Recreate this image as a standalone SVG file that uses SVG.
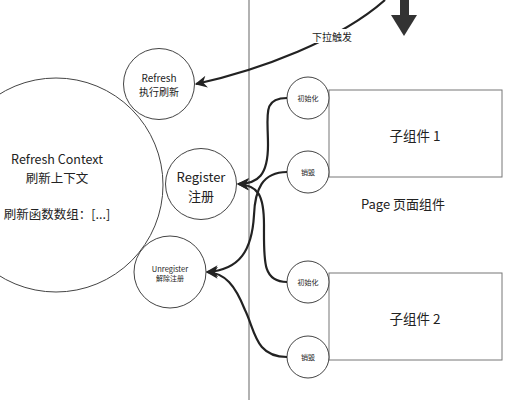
<svg xmlns="http://www.w3.org/2000/svg" width="508" height="400" viewBox="0 0 508 400">
<style>
text{font-family:"Noto Sans CJK SC","Noto Sans",sans-serif;fill:#222;text-anchor:middle;dominant-baseline:central}
.node{fill:#fff;stroke:#444;stroke-width:1}
.box{fill:#fff;stroke:#777;stroke-width:1}
.conn{fill:none;stroke:#222;stroke-width:2.2}
</style>
<defs>
<marker id="arr" viewBox="0 0 10 10" refX="9" refY="5" markerWidth="5.5" markerHeight="5.5" orient="auto" markerUnits="strokeWidth">
<path d="M0,0 L10,5 L0,10 L3,5 Z" fill="#222"/>
</marker>
</defs>
<rect width="508" height="400" fill="#fff"/>
<line x1="249" y1="0" x2="249" y2="400" stroke="#999" stroke-width="1.5"/>

<g id="context">
<circle class="node" cx="56" cy="185" r="107"/>
<text x="57" y="158" font-size="12.5">Refresh Context</text>
<text x="57" y="177" font-size="12.5">刷新上下文</text>
<text x="57" y="213" font-size="12.5">刷新函数数组：[...]</text>
</g>
<g id="refresh">
<circle class="node" cx="159" cy="84" r="35.5"/>
<text x="159" y="77" font-size="10">Refresh</text>
<text x="159" y="91" font-size="10">执行刷新</text>
</g>
<g id="register">
<circle class="node" cx="201" cy="184" r="35.5"/>
<text x="201" y="176" font-size="13">Register</text>
<text x="201" y="195" font-size="13">注册</text>
</g>
<g id="unregister">
<circle class="node" cx="170" cy="272" r="36"/>
<text x="170" y="268" font-size="7.5">Unregister</text>
<text x="170" y="278" font-size="7">解除注册</text>
</g>

<g id="child1">
<rect class="box" x="329" y="90" width="173" height="87"/>
<text x="415" y="135" font-size="13.5">子组件 1</text>
</g>
<g id="child2">
<rect class="box" x="329" y="273" width="173" height="87"/>
<text x="415" y="318" font-size="13.5">子组件 2</text>
</g>
<g id="init1">
<circle class="node" cx="308" cy="98" r="21"/>
<text x="308" y="98" font-size="7">初始化</text>
</g>
<g id="destroy1">
<circle class="node" cx="308" cy="172" r="21"/>
<text x="308" y="172" font-size="7">销毁</text>
</g>
<g id="init2">
<circle class="node" cx="308" cy="282" r="21"/>
<text x="308" y="282" font-size="7">初始化</text>
</g>
<g id="destroy2">
<circle class="node" cx="308" cy="357" r="21"/>
<text x="308" y="357" font-size="7">销毁</text>
</g>
<g id="page">
<text x="403" y="203" font-size="13">Page 页面组件</text>
</g>
<g id="pull">
<rect x="400" y="-1" width="9" height="18" fill="#333"/>
<polygon points="391,15 417,15 404,36" fill="#333"/>
</g>

<g id="connectors">
<path class="conn" d="M385 0 C340 40 260 70 196 84" marker-end="url(#arr)"/>
<rect x="310" y="29" width="45" height="14" fill="#fff"/>
<text x="332" y="36" font-size="10">下拉触发</text>
<path class="conn" d="M287 98 C262 98 268 115 268 145 C268 175 258 184 238 184" marker-end="url(#arr)"/>
<path class="conn" d="M287 282 C262 282 264 260 264 225 C264 195 258 185 238 184" marker-end="url(#arr)"/>
<path class="conn" d="M287 172 C262 172 255 190 254 215 C252 250 240 270 207 272" marker-end="url(#arr)"/>
<path class="conn" d="M287 357 C255 357 255 330 245 310 C235 285 225 273 207 272" marker-end="url(#arr)"/>
</g>
</svg>
